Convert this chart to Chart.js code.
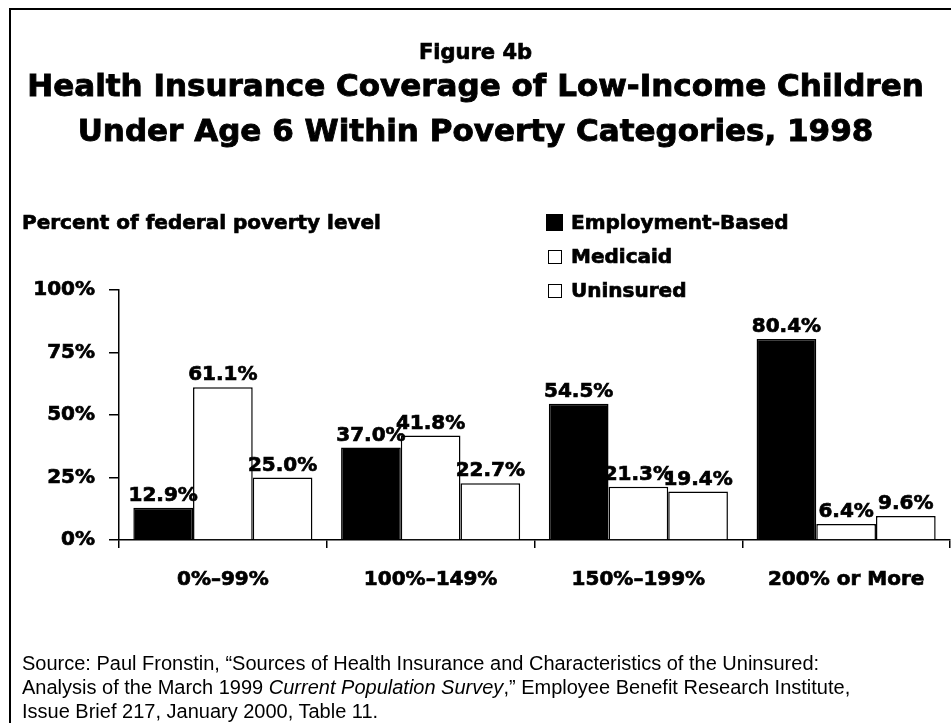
<!DOCTYPE html>
<html>
<head>
<meta charset="utf-8">
<script src="https://cdn.jsdelivr.net/npm/chart.js@4.4.1/dist/chart.umd.min.js"></script>
<style>
  html, body { margin: 0; padding: 0; background: #fff; }
  #page { position: relative; width: 951px; height: 723px; overflow: hidden; background: #fff; }
  #frame { position: absolute; left: 9px; top: 8px; width: 960px; height: 740px; border: 2px solid #000; box-sizing: border-box; }
  #chart { position: absolute; left: 0; top: 0; }
  .heavy { position: absolute; font-family: "DejaVu Sans", sans-serif; font-weight: bold; color: #000; white-space: nowrap; -webkit-text-stroke: 0.7px #000; }
  #fig { left: 0; width: 951px; text-align: center; top: 40px; font-size: 21px; line-height: 24px; }
  #title { left: 0; width: 951px; text-align: center; top: 63px; font-size: 31px; line-height: 45px; -webkit-text-stroke: 0.9px #000; }
  #axisTitle { left: 22px; top: 210px; font-size: 20px; line-height: 24px; }
  #legend { position: absolute; left: 546px; top: 210px; }
  .item { position: relative; height: 34px; font-size: 20px; line-height: 24px; }
  .swatch { position: absolute; left: 0; top: 4px; width: 17px; height: 17px; box-sizing: border-box; border: 1.5px solid #000; }
  .item span { position: absolute; left: 25px; top: 0; }
  #source { position: absolute; left: 22px; top: 651px; font-family: "Liberation Sans", Arial, sans-serif; font-size: 20px; line-height: 24px; color: #000; white-space: nowrap; }
</style>
</head>
<body>
<div id="page">
  <div id="frame"></div>
  <canvas id="chart" width="951" height="723"></canvas>
  <div id="fig" class="heavy">Figure 4b</div>
  <div id="title" class="heavy">Health Insurance Coverage of Low-Income Children<br>Under Age 6 Within Poverty Categories, 1998</div>
  <div id="axisTitle" class="heavy">Percent of federal poverty level</div>
  <div id="legend"></div>
  <div id="source">Source: Paul Fronstin, “Sources of Health Insurance and Characteristics of the Uninsured:<br>Analysis of the March 1999 <i>Current Population Survey</i>,” Employee Benefit Research Institute,<br>Issue Brief 217, January 2000, Table 11.</div>
</div>
<script>
const categories = ["0%–99%", "100%–149%", "150%–199%", "200% or More"];
const employment = [12.9, 37.0, 54.5, 80.4];
const medicaid = [61.1, 41.8, 21.3, 6.4];
const uninsured = [25.0, 22.7, 19.4, 9.6];
const yTicks = [0, 25, 50, 75, 100];

const heavyFont = { family: "DejaVu Sans", weight: "bold", size: 20 };

function makeSet(label, values, fill) {
  return {
    label: label,
    data: values,
    backgroundColor: fill,
    borderColor: "#000",
    borderWidth: 1.5,
    borderSkipped: "bottom",
    categoryPercentage: 0.862,
    barPercentage: 1.0,
  };
}

// value printed above each bar
const barLabels = {
  id: "barLabels",
  afterDatasetsDraw(chart) {
    const ctx = chart.ctx;
    ctx.save();
    ctx.font = "bold 20px 'DejaVu Sans'";
    ctx.fillStyle = "#000";
    ctx.strokeStyle = "#000";
    ctx.lineWidth = 0.7;
    ctx.textAlign = "center";
    ctx.textBaseline = "alphabetic";
    chart.data.datasets.forEach((ds, i) => {
      chart.getDatasetMeta(i).data.forEach((bar, j) => {
        const txt = ds.data[j].toFixed(1) + "%";
        ctx.strokeText(txt, bar.x, bar.y - 7);
        ctx.fillText(txt, bar.x, bar.y - 7);
      });
    });
    ctx.restore();
  },
};

const chart = new Chart(document.getElementById("chart"), {
  type: "bar",
  data: {
    labels: categories,
    datasets: [
      makeSet("Employment-Based", employment, "#000"),
      makeSet("Medicaid", medicaid, "#fff"),
      makeSet("Uninsured", uninsured, "#fff"),
    ],
  },
  options: {
    responsive: false,
    animation: false,
    layout: { padding: { top: 290, left: 0, right: 1, bottom: 123 } },
    plugins: { legend: { display: false }, tooltip: { enabled: false } },
    scales: {
      x: {
        afterFit: (s) => { s.height = 60; },
        grid: { drawOnChartArea: false, tickLength: 8, color: "#000", lineWidth: 1.5 },
        border: { color: "#000", width: 1.5 },
        ticks: { font: heavyFont, color: "#000", padding: 20, textStrokeColor: "#000", textStrokeWidth: 0.7 },
      },
      y: {
        min: 0,
        max: 100,
        afterFit: (s) => { s.width = 119; },
        afterBuildTicks: (s) => { s.ticks = yTicks.map((v) => ({ value: v })); },
        grid: { drawOnChartArea: false, tickLength: 10, color: "#000", lineWidth: 1.5 },
        border: { color: "#000", width: 1.5 },
        ticks: { font: heavyFont, color: "#000", padding: 14, textStrokeColor: "#000", textStrokeWidth: 0.7, callback: (v) => v + "%" },
      },
    },
  },
  plugins: [barLabels],
});

// legend built from the datasets
const legend = document.getElementById("legend");
chart.data.datasets.forEach((ds) => {
  const item = document.createElement("div");
  item.className = "item heavy";
  item.style.position = "relative";
  const sw = document.createElement("div");
  sw.className = "swatch";
  sw.style.background = ds.backgroundColor;
  if (ds.backgroundColor !== "#000") {
    sw.style.left = "2px"; sw.style.top = "6px"; sw.style.width = "14px"; sw.style.height = "14px";
  }
  const txt = document.createElement("span");
  txt.textContent = ds.label;
  item.appendChild(sw);
  item.appendChild(txt);
  legend.appendChild(item);
});
</script>
</body>
</html>
